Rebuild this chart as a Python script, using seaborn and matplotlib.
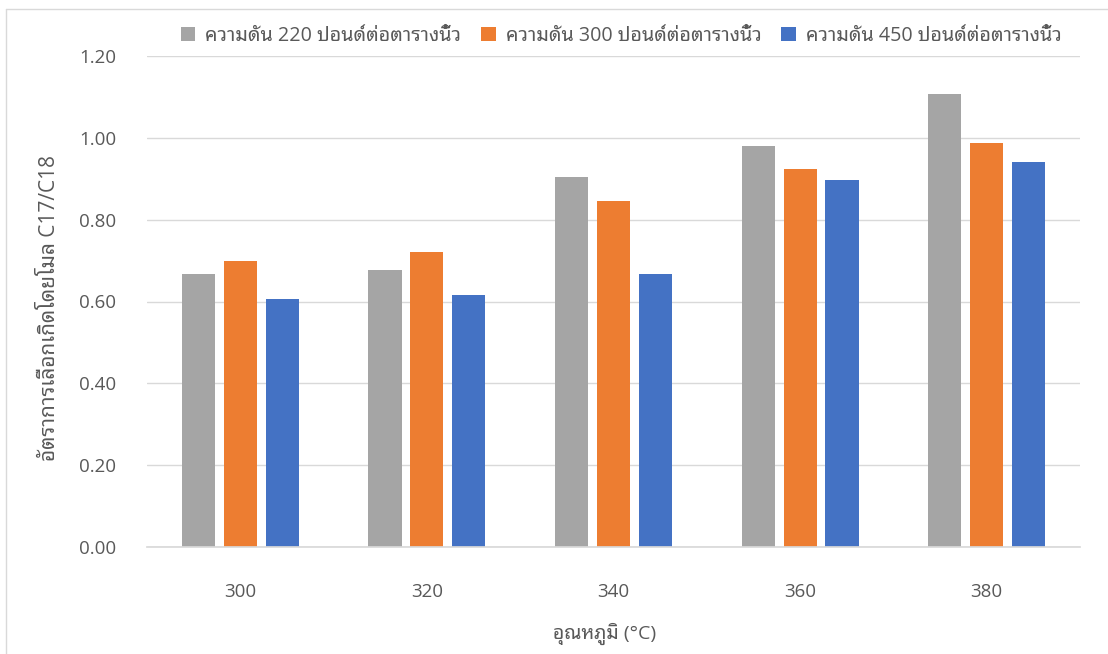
import matplotlib
matplotlib.use("Agg")
import matplotlib.pyplot as plt
from matplotlib.lines import Line2D
import seaborn as sns
import pandas as pd

temperatures = ["300", "320", "340", "360", "380"]
series_names = ["ความดัน 220 ปอนด์ต่อตารางนิ้ว", "ความดัน 300 ปอนด์ต่อตารางนิ้ว", "ความดัน 450 ปอนด์ต่อตารางนิ้ว"]
values_220 = [0.666, 0.677, 0.905, 0.979, 1.106]
values_300 = [0.700, 0.722, 0.846, 0.925, 0.988]
values_450 = [0.606, 0.615, 0.666, 0.898, 0.941]
colors = ["#A5A5A5", "#ED7D31", "#4472C4"]
y_ticks = [0.0, 0.2, 0.4, 0.6, 0.8, 1.0, 1.2]
x_title = "อุณหภูมิ (°C)"
y_title = "อัตราการเลือกเกิดโดยโมล C17/C18"

sns.set_theme(style="white")
plt.rcParams["font.family"] = ["Open Sans", "Noto Sans Thai Looped", "DejaVu Sans"]
text_color = "#595959"

df = pd.DataFrame({
    "temp": temperatures * 3,
    "series": sum([[n] * len(temperatures) for n in series_names], []),
    "value": values_220 + values_300 + values_450,
})

fig = plt.figure(figsize=(11.08, 6.54), dpi=100)
ax = fig.add_axes([147 / 1108, 1 - 547 / 654, 933 / 1108, 491 / 654])
sns.barplot(data=df, x="temp", y="value", hue="series", palette=colors,
            width=0.674, gap=0.21, ax=ax, legend=True, errorbar=None,
            saturation=1, linewidth=0)

ax.set_xlim(-0.5, 4.5)
ax.set_ylim(0, 1.2)
ax.set_yticks(y_ticks)
ax.set_yticklabels([f"{t:.2f}" for t in y_ticks])
ax.grid(axis="y", color="#D9D9D9", linewidth=1)
ax.set_axisbelow(True)
for s in ["top", "right", "left"]:
    ax.spines[s].set_visible(False)
ax.spines["bottom"].set_color("#D9D9D9")
ax.tick_params(axis="both", colors=text_color, labelsize=13.5, length=0)
ax.tick_params(axis="x", pad=26)
ax.tick_params(axis="y", pad=22)
ax.set_xlabel(x_title, color=text_color, fontsize=14, labelpad=22)
ax.set_ylabel(y_title, color=text_color, fontsize=15, labelpad=2)
ax.xaxis.set_label_coords(605 / 1108, 1 - 634 / 654, transform=fig.transFigure)
ax.xaxis.label.set_va("center")
ax.yaxis.set_label_coords(50 / 1108, 1 - 308 / 654, transform=fig.transFigure)
ax.yaxis.label.set_va("center")

handles, labels = ax.get_legend_handles_labels()
ax.legend(handles, labels, loc="center", bbox_to_anchor=(621 / 1108, 1 - 36 / 654),
          bbox_transform=fig.transFigure, ncol=3, frameon=False, fontsize=14.2,
          labelcolor=text_color, handlelength=0.75, handleheight=0.75, handletextpad=0.5,
          columnspacing=1.0)

# chart frame (top and left edges visible)
fig.add_artist(Line2D([6 / 1108, 6 / 1108], [0, 1 - 9 / 654], transform=fig.transFigure,
                      color="#D9D9D9", linewidth=1))
fig.add_artist(Line2D([6 / 1108, 1], [1 - 9 / 654, 1 - 9 / 654], transform=fig.transFigure,
                      color="#D9D9D9", linewidth=1))

fig.savefig("out.png", dpi=100)
